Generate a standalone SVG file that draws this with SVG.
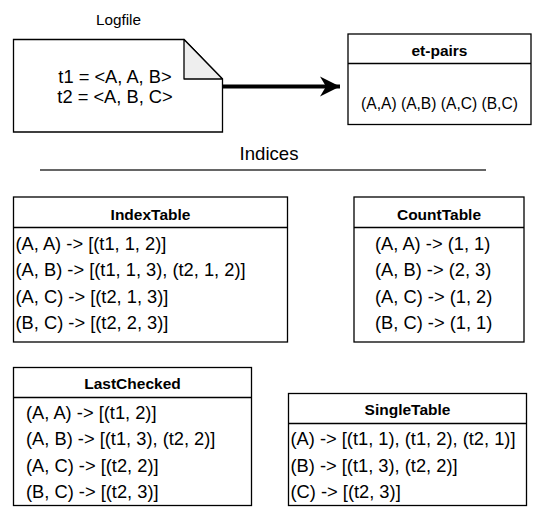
<svg xmlns="http://www.w3.org/2000/svg" width="540" height="516" viewBox="0 0 540 516">
<style>
text{font-family:"Liberation Sans",Arial,sans-serif;fill:#000}
.t{font-size:15.5px;font-weight:bold;text-anchor:middle}
.r{font-size:18.3px}
.box{fill:#fff;stroke:#000;stroke-width:1.3}
.hl{stroke:#000;stroke-width:1.3;fill:none}
</style>
<defs>
<marker id="ah" markerUnits="userSpaceOnUse" markerWidth="22" markerHeight="22" viewBox="0 0 22 22" refX="20" refY="11" orient="auto">
<path d="M0,1 L20,11 L0,21 L6,11 Z" fill="#000"/>
</marker>
</defs>
<g id="connectors">
<line x1="222.5" y1="86.5" x2="340" y2="86.5" stroke="#000" stroke-width="4" marker-end="url(#ah)"/>
</g>
<g id="logfile">
<text x="118.5" y="24.5" style="font-size:15.3px" text-anchor="middle">Logfile</text>
<path d="M13.5,39.5 H184 L222.5,79 V132 H13.5 Z" class="box"/>
<path d="M184,39.5 V79 H222.5 Z" fill="#eeeeee" stroke="#000" stroke-width="1.3" stroke-linejoin="round"/>
<text x="115" y="82.5" class="r" text-anchor="middle">t1 = &lt;A, A, B&gt;</text>
<text x="115" y="103" class="r" text-anchor="middle">t2 = &lt;A, B, C&gt;</text>
</g>
<g id="et-pairs">
<rect x="348" y="34" width="183" height="90.5" class="box"/>
<line x1="348" y1="63.5" x2="531" y2="63.5" class="hl"/>
<text x="439.5" y="55.5" class="t">et-pairs</text>
<text x="439.5" y="108.5" style="font-size:15.6px" text-anchor="middle">(A,A) (A,B) (A,C) (B,C)</text>
</g>
<g id="indices">
<text x="269" y="160" style="font-size:18.6px" text-anchor="middle">Indices</text>
<line x1="40" y1="170" x2="486" y2="170" stroke="#333" stroke-width="1.6"/>
</g>
<g id="IndexTable">
<rect x="13.5" y="197" width="274" height="145" class="box"/>
<line x1="13.5" y1="227.5" x2="287.5" y2="227.5" class="hl"/>
<text x="150.5" y="219.5" class="t">IndexTable</text>
<text x="15.5" y="249.5" class="r">(A, A) -&gt; [(t1, 1, 2)]</text>
<text x="15.5" y="276" class="r">(A, B) -&gt; [(t1, 1, 3), (t2, 1, 2)]</text>
<text x="15.5" y="302.5" class="r">(A, C) -&gt; [(t2, 1, 3)]</text>
<text x="15.5" y="329" class="r">(B, C) -&gt; [(t2, 2, 3)]</text>
</g>
<g id="CountTable">
<rect x="354" y="197" width="170" height="145" class="box"/>
<line x1="354" y1="227.5" x2="524" y2="227.5" class="hl"/>
<text x="439" y="219.5" class="t">CountTable</text>
<text x="375" y="249.5" class="r">(A, A) -&gt; (1, 1)</text>
<text x="375" y="276" class="r">(A, B) -&gt; (2, 3)</text>
<text x="375" y="302.5" class="r">(A, C) -&gt; (1, 2)</text>
<text x="375" y="329" class="r">(B, C) -&gt; (1, 1)</text>
</g>
<g id="LastChecked">
<rect x="13.5" y="367.5" width="238" height="138" class="box"/>
<line x1="13.5" y1="397.5" x2="251.5" y2="397.5" class="hl"/>
<text x="132.5" y="389" class="t">LastChecked</text>
<text x="26" y="418.5" class="r">(A, A) -&gt; [(t1, 2)]</text>
<text x="26" y="445" class="r">(A, B) -&gt; [(t1, 3), (t2, 2)]</text>
<text x="26" y="471.5" class="r">(A, C) -&gt; [(t2, 2)]</text>
<text x="26" y="498" class="r">(B, C) -&gt; [(t2, 3)]</text>
</g>
<g id="SingleTable">
<rect x="288.5" y="393.5" width="238" height="112" class="box"/>
<line x1="288.5" y1="423.5" x2="526.5" y2="423.5" class="hl"/>
<text x="407.5" y="415" class="t">SingleTable</text>
<text x="290.5" y="445" class="r">(A) -&gt; [(t1, 1), (t1, 2), (t2, 1)]</text>
<text x="290.5" y="471.5" class="r">(B) -&gt; [(t1, 3), (t2, 2)]</text>
<text x="290.5" y="498" class="r">(C) -&gt; [(t2, 3)]</text>
</g>
</svg>
